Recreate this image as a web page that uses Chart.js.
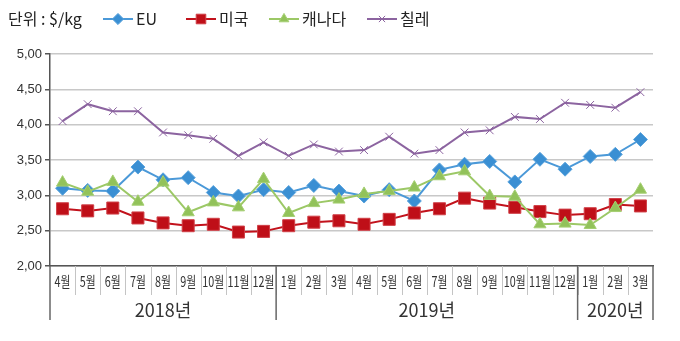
<!DOCTYPE html>
<html>
<head>
<meta charset="utf-8">
<script src="https://cdn.jsdelivr.net/npm/chart.js@4"></script>
<style>
  html, body { margin: 0; padding: 0; background: #fff; }
  #wrap { width: 680px; height: 341px; }
</style>
</head>
<body>
<div id="wrap"><canvas id="myChart"></canvas></div>
<script>
// months from April 2018 to March 2020
var months = ['4월', '5월', '6월', '7월', '8월', '9월', '10월', '11월', '12월',
              '1월', '2월', '3월', '4월', '5월', '6월', '7월', '8월', '9월', '10월', '11월', '12월',
              '1월', '2월', '3월'];
var yearLabels = ['2018년', '2019년', '2020년'];
var yearSpans = [9, 12, 3];

// price per kg, USD
var euPrices = [3.10, 3.07, 3.06, 3.40, 3.22, 3.25, 3.04, 2.99, 3.08,
                3.04, 3.14, 3.06, 2.99, 3.08, 2.92, 3.36, 3.44, 3.48, 3.19, 3.51, 3.37,
                3.55, 3.58, 3.79];
var usPrices = [2.81, 2.78, 2.82, 2.68, 2.61, 2.57, 2.59, 2.48, 2.49,
                2.57, 2.62, 2.64, 2.59, 2.66, 2.75, 2.81, 2.96, 2.89, 2.83, 2.77, 2.72,
                2.74, 2.87, 2.85];
var canadaPrices = [3.18, 3.05, 3.19, 2.91, 3.18, 2.76, 2.90, 2.83, 3.23,
                    2.75, 2.89, 2.94, 3.02, 3.06, 3.11, 3.27, 3.34, 2.99, 2.98, 2.59, 2.60,
                    2.58, 2.82, 3.08];
var chilePrices = [4.05, 4.29, 4.19, 4.19, 3.89, 3.85, 3.80, 3.56, 3.75,
                   3.56, 3.72, 3.62, 3.64, 3.83, 3.59, 3.64, 3.89, 3.92, 4.11, 4.08, 4.31,
                   4.28, 4.24, 4.46];

var unitLabel = '단위 : $/kg';
var korFont = '"Noto Sans CJK KR", "Noto Sans", sans-serif';

// legend drawn by hand: line with marker, like the series
var customLegend = {
    id: 'customLegend',
    afterDraw: function (chart) {
        var ctx = chart.ctx;
        var y = 19;
        ctx.save();
        ctx.font = '16px ' + korFont;
        ctx.fillStyle = '#222';
        ctx.textBaseline = 'middle';
        ctx.fillText(unitLabel, 8, y);
        var starts = [103, 186, 269, 367];
        chart.data.datasets.forEach(function (ds, i) {
            var x0 = starts[i];
            ctx.strokeStyle = ds.borderColor;
            ctx.lineWidth = 2;
            ctx.beginPath();
            ctx.moveTo(x0, y);
            ctx.lineTo(x0 + 30, y);
            ctx.stroke();
            ctx.fillStyle = ds.pointBackgroundColor;
            ctx.strokeStyle = ds.pointBorderColor;
            ctx.lineWidth = ds.pointBorderWidth;
            Chart.helpers.drawPoint(ctx, {
                pointStyle: ds.pointStyle,
                radius: ds.pointRadius * 0.8,
                rotation: 0,
                borderWidth: ds.pointBorderWidth
            }, x0 + 15, y);
            ctx.fillStyle = '#222';
            ctx.fillText(ds.label, x0 + 33, y);
        });
        ctx.restore();
    }
};

// two-row category axis: month cells, then year groups
var monthYearAxis = {
    id: 'monthYearAxis',
    afterDraw: function (chart) {
        var ctx = chart.ctx;
        var x = chart.scales.x;
        var top = x.top;
        ctx.save();
        // month separators
        ctx.strokeStyle = '#c4c4c4';
        ctx.lineWidth = 1;
        for (var i = 1; i < months.length; i++) {
            var bx = Math.round(x.getPixelForValue(i - 0.5)) + 0.5;
            ctx.beginPath();
            ctx.moveTo(bx, top);
            ctx.lineTo(bx, top + 29);
            ctx.stroke();
        }
        // month labels, condensed
        ctx.fillStyle = '#333';
        ctx.textAlign = 'center';
        ctx.textBaseline = 'middle';
        ctx.font = '15px ' + korFont;
        months.forEach(function (m, i) {
            var cx = x.getPixelForValue(i);
            ctx.save();
            ctx.translate(cx, top + 15);
            ctx.scale(0.72, 1);
            ctx.fillText(m, 0, 0);
            ctx.restore();
        });
        // year groups
        ctx.strokeStyle = '#666';
        ctx.lineWidth = 1.5;
        ctx.font = '18px ' + korFont;
        var start = 0;
        var edges = [x.getPixelForValue(-0.5)];
        yearSpans.forEach(function (n, k) {
            var l = x.getPixelForValue(start - 0.5);
            var r = x.getPixelForValue(start + n - 0.5);
            edges.push(r);
            ctx.fillText(yearLabels[k], (l + r) / 2, top + 44);
            start += n;
        });
        edges.forEach(function (ex) {
            ctx.beginPath();
            ctx.moveTo(ex, top);
            ctx.lineTo(ex, top + 54);
            ctx.stroke();
        });
        ctx.restore();
    }
};

var ctx = document.getElementById('myChart').getContext('2d');
var chart = new Chart(ctx, {
    type: 'line',
    data: {
        labels: months,
        datasets: [{
            label: 'EU',
            data: euPrices,
            borderColor: '#4b99d8',
            borderWidth: 2,
            pointStyle: 'rectRot',
            pointRadius: 7,
            pointBackgroundColor: '#3a8fd3',
            pointBorderColor: '#5aa3dc',
            pointBorderWidth: 1,
            order: 4
        }, {
            label: '미국',
            data: usPrices,
            borderColor: '#c2121c',
            borderWidth: 2,
            pointStyle: 'rect',
            pointRadius: 8.5,
            pointBackgroundColor: '#bf0f18',
            pointBorderColor: '#d04048',
            pointBorderWidth: 1,
            order: 3
        }, {
            label: '캐나다',
            data: canadaPrices,
            borderColor: '#9cc866',
            borderWidth: 2,
            pointStyle: 'triangle',
            pointRadius: 7,
            pointBackgroundColor: '#92c25a',
            pointBorderColor: '#a5cf72',
            pointBorderWidth: 1,
            order: 2
        }, {
            label: '칠레',
            data: chilePrices,
            borderColor: '#8c64a0',
            borderWidth: 2,
            pointStyle: 'crossRot',
            pointRadius: 5.5,
            pointBackgroundColor: '#8c64a0',
            pointBorderColor: '#8c64a0',
            pointBorderWidth: 1,
            order: 1
        }]
    },
    options: {
        responsive: true,
        maintainAspectRatio: false,
        animation: false,
        layout: { padding: { top: 54, right: 27, left: 0, bottom: 0 } },
        plugins: {
            legend: { display: false },
            tooltip: { enabled: false }
        },
        elements: { line: { tension: 0 } },
        scales: {
            x: {
                offset: true,
                grid: { display: false },
                ticks: { display: false },
                border: { display: true, color: '#555', width: 1.5, z: 1 },
                afterFit: function (scale) { scale.height = 75; }
            },
            y: {
                min: 2,
                max: 5,
                ticks: {
                    stepSize: 0.5,
                    padding: 3,
                    color: '#333',
                    font: { family: '"Liberation Sans", Arial, sans-serif', size: 13 },
                    callback: function (v) { return v.toFixed(2).replace('.', ','); }
                },
                grid: { color: '#c8c8c8', lineWidth: 1.5, tickLength: 5, tickColor: '#555' },
                border: { display: true, color: '#555', width: 1.5, z: 1 },
                afterFit: function (scale) { scale.width = 50; }
            }
        }
    },
    plugins: [customLegend, monthYearAxis]
});
</script>
</body>
</html>
